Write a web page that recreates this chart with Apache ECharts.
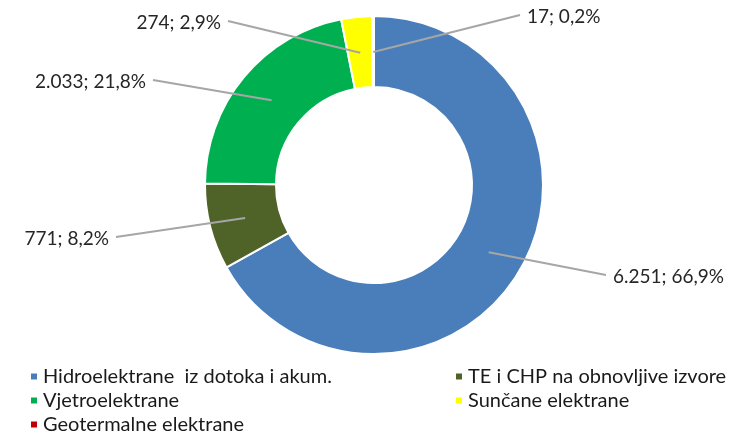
<!DOCTYPE html>
<html>
<head>
<meta charset="utf-8">
<script src="https://cdn.jsdelivr.net/npm/echarts@6/dist/echarts.min.js"></script>
<style>
  html, body { margin: 0; padding: 0; background: #fff; }
  #chart { width: 745px; height: 435px; }
</style>
</head>
<body>
<div id="chart"></div>
<script>
// izvori energije (GWh)
const names = ['Hidroelektrane  iz dotoka i akum.', 'TE i CHP na obnovljive izvore', 'Vjetroelektrane', 'Sunčane elektrane', 'Geotermalne elektrane']
const values = [6251, 771, 2033, 274, 17]
const colors = ['#4a7ebb', '#4f6228', '#00b050', '#ffff00', '#c00000']

// where each label text sits (anchor x, y, align)
const labelSpots = [
  [613, 277, 'left'],
  [109, 239, 'right'],
  [146, 82, 'right'],
  [221, 23, 'right'],
  [527, 17, 'left']
]

const total = values.reduce((a, b) => a + b, 0)
const fmtNum = v => String(v).replace(/\B(?=(\d{3})+(?!\d))/g, '.')
const fmtPct = v => (v / total * 100).toFixed(1).replace('.', ',') + '%'

const data = names.map((n, i) => ({ name: n, value: values[i], itemStyle: { color: colors[i] } }))
const fontFamily = 'Lato, "Open Sans", sans-serif'

function legendBlock(idx, left) {
  return {
    orient: 'vertical',
    left: left,
    top: 361,
    height: 90,
    itemGap: 3,
    itemWidth: 8,
    itemHeight: 8,
    icon: 'rect',
    selectedMode: false,
    textStyle: { fontSize: 20, lineHeight: 21, color: '#1a1a1a', fontFamily: fontFamily },
    data: idx.map(i => ({ name: names[i], itemStyle: { color: colors[i] } }))
  }
}

let chart = echarts.init(document.getElementById('chart'))
chart.setOption({
  animation: false,
  legend: [legendBlock([0, 2, 4], 24), legendBlock([1, 3], 449)],
  series: [{
    name: 'ring',
    type: 'pie',
    center: [374, 185],
    radius: [98, 169],
    startAngle: 90,
    clockwise: true,
    silent: true,
    label: { show: false },
    labelLine: { show: false },
    itemStyle: { borderColor: '#fff', borderWidth: 2 },
    data: data
  }, {
    // invisible pie just for the labels, so lines start mid-ring
    name: 'labels',
    type: 'pie',
    center: [374, 185],
    radius: [0, 133],
    startAngle: 90,
    clockwise: true,
    silent: true,
    z: 5,
    itemStyle: { color: 'rgba(0,0,0,0)' },
    label: {
      show: true,
      position: 'outside',
      fontSize: 19,
      color: '#262626',
      fontFamily: fontFamily,
      formatter: p => fmtNum(p.value) + '; ' + fmtPct(p.value)
    },
    labelLine: { show: true, length: 10, length2: 10, lineStyle: { color: '#a6a6a6', width: 2 } },
    labelLayout: function (params) {
      const s = labelSpots[params.dataIndex]
      const p0 = params.labelLinePoints[0]
      const ex = s[2] === 'left' ? s[0] - 7 : s[0] + 7
      const end = [ex, s[1] - 2]
      return {
        x: s[0],
        y: s[1],
        align: s[2],
        verticalAlign: 'middle',
        labelLinePoints: [p0, end, end]
      }
    },
    data: names.map((n, i) => ({ name: n, value: values[i] }))
  }]
})
</script>
</body>
</html>
